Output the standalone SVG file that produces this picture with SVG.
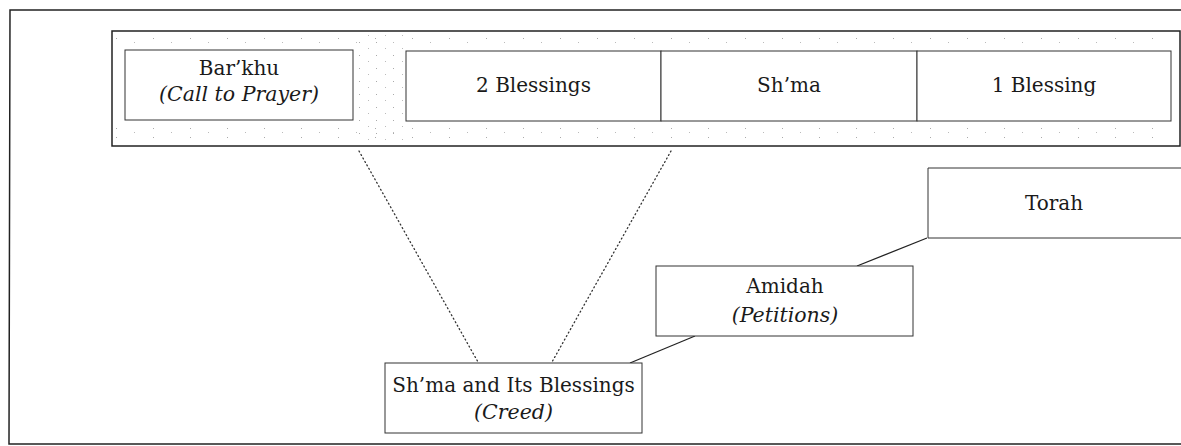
<svg xmlns="http://www.w3.org/2000/svg" width="1181" height="446" viewBox="0 0 1181 446">
  <style>
    .frame { fill: none; stroke: #222; stroke-width: 1.5; }
    .box { fill: #fff; stroke: #333; stroke-width: 1; }
    .t { font-family: "DejaVu Serif", "Liberation Serif", serif; font-size: 20px; fill: #1a1a1a; text-anchor: middle; }
    .i { font-style: italic; font-size: 20.5px; }
    .dot { fill: none; stroke: #333; stroke-width: 1.3; stroke-dasharray: 1 3; stroke-linecap: round; }
    .solid { fill: none; stroke: #222; stroke-width: 1.3; }
  </style>
  <defs>
    <pattern id="speck" width="17" height="13" patternUnits="userSpaceOnUse">
      <rect x="2" y="3" width="1" height="1" fill="#aaa"/>
      <rect x="11" y="9" width="1" height="1" fill="#bbb"/>
    </pattern>
    <pattern id="speck2" width="37" height="9" patternUnits="userSpaceOnUse">
      <rect x="5" y="2" width="1" height="1" fill="#aaa"/>
      <rect x="23" y="6" width="1" height="1" fill="#bbb"/>
    </pattern>
  </defs>
  <rect width="1181" height="446" fill="#fff"/>
  <g id="outer-frame">
    <path class="frame" d="M1183,10 L10,10 L9,444 L1183,444"/>
  </g>
  <g id="service-bar">
    <rect class="frame" x="112" y="31" width="1068" height="115"/>
    <rect x="357" y="34" width="46" height="108" fill="url(#speck)"/>
    <rect x="116" y="124" width="1050" height="16" fill="url(#speck2)"/>
    <rect x="116" y="35" width="1050" height="12" fill="url(#speck2)"/>
  </g>
  <g id="barkhu">
    <rect class="box" x="125" y="50" width="228" height="70"/>
    <text class="t" x="239" y="75">Bar’khu</text>
    <text class="t i" x="239" y="101">(Call to Prayer)</text>
  </g>
  <g id="two-blessings">
    <rect class="box" x="406" y="51" width="255" height="70"/>
    <text class="t" x="533.5" y="92">2 Blessings</text>
  </g>
  <g id="shma">
    <rect class="box" x="661" y="51" width="256" height="70"/>
    <text class="t" x="789" y="92">Sh’ma</text>
  </g>
  <g id="one-blessing">
    <rect class="box" x="917" y="51" width="254" height="70"/>
    <text class="t" x="1044" y="92">1 Blessing</text>
  </g>
  <g id="connectors">
    <line class="dot" x1="359" y1="151" x2="478" y2="362"/>
    <line class="dot" x1="671" y1="151" x2="552" y2="362"/>
    <line class="solid" x1="630" y1="363" x2="695" y2="336"/>
    <line class="solid" x1="857" y1="266" x2="927" y2="238"/>
  </g>
  <g id="torah">
    <path class="box" d="M1183,168 L928,168 L928,238 L1183,238"/>
    <text class="t" x="1054" y="210">Torah</text>
  </g>
  <g id="amidah">
    <rect class="box" x="656" y="266" width="257" height="70"/>
    <text class="t" x="785" y="293">Amidah</text>
    <text class="t i" x="785" y="322">(Petitions)</text>
  </g>
  <g id="shma-blessings">
    <rect class="box" x="385" y="363" width="257" height="70"/>
    <text class="t" x="513.5" y="392">Sh’ma and Its Blessings</text>
    <text class="t i" x="513.5" y="419">(Creed)</text>
  </g>
</svg>
